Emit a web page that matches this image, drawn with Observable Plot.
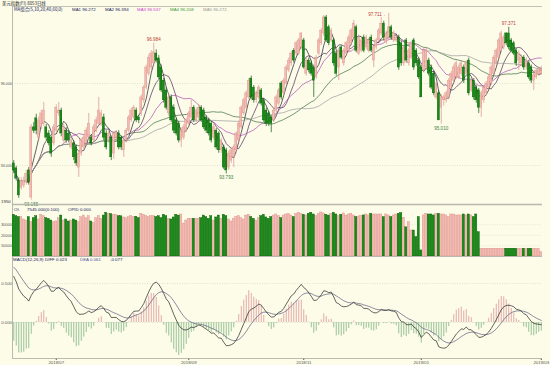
<!DOCTYPE html>
<html><head><meta charset="utf-8">
<script src="https://cdn.jsdelivr.net/npm/d3@7"></script>
<script src="https://cdn.jsdelivr.net/npm/@observablehq/plot@0.6"></script>
<style>
html,body{margin:0;padding:0;background:#fcfce9;}
#wrap{position:relative;width:550px;height:365px;overflow:hidden;background:#fcfce9;}
#wrap svg{position:absolute;left:0;overflow:visible;}
</style></head><body><div id="wrap"></div>
<script>
// ---------- data ----------
const opens = [
94.05,93.93,93.63,93.46,93.51,93.59,93.88,93.22,94.93,95.15,
94.68,94.93,95.02,94.93,94.78,94.68,94.54,94.85,95.27,95.34,
94.61,94.85,94.78,94.44,94.54,94.44,93.95,94.29,94.44,94.54,
94.68,94.68,94.61,94.85,95.02,95.02,95.17,94.78,94.61,94.68,
94.29,94.68,94.78,94.68,94.37,94.61,94.85,95.10,95.17,95.34,
95.17,95.27,95.59,95.90,96.24,96.39,96.49,96.73,96.61,96.39,
96.07,95.83,95.27,95.66,95.41,95.10,95.02,94.61,94.68,94.85,
95.02,95.17,95.41,95.10,95.17,95.41,95.34,95.17,95.10,95.02,
94.68,94.85,94.78,94.37,94.44,94.37,93.95,94.12,94.20,94.37,
94.61,94.93,95.27,95.41,95.66,96.12,95.90,95.59,95.66,95.83,
95.59,95.34,95.27,95.17,95.10,95.34,95.51,96.00,95.76,96.00,
96.32,96.49,96.80,96.73,96.73,96.88,97.05,96.24,96.56,96.49,
96.39,96.15,96.73,96.98,97.22,97.61,97.37,97.05,97.05,96.73,
96.39,96.88,96.49,96.73,96.80,96.98,97.12,97.37,96.73,96.80,
97.12,96.88,96.80,97.12,96.56,96.88,97.05,97.22,97.46,97.00,
97.12,97.37,97.05,97.05,97.12,96.98,96.49,97.05,96.49,96.63,
97.05,96.80,96.56,96.39,96.32,96.39,96.56,96.39,96.24,95.66,
95.76,95.41,95.59,95.59,95.66,95.90,96.07,96.15,96.15,96.24,
96.39,96.24,96.56,95.83,96.07,95.90,95.83,95.41,95.59,95.76,
95.90,96.00,96.24,96.49,96.63,96.80,96.88,97.22,97.22,97.05,
96.98,96.80,96.56,96.49,96.63,96.39,96.49,96.39,96.07,96.15,
96.22,96.26];
const highs = [
94.12,93.98,93.70,93.70,93.72,93.88,93.95,95.00,95.05,95.25,
95.18,95.35,95.54,95.00,94.85,94.72,95.00,95.48,95.54,95.40,
95.00,94.92,94.85,94.68,94.60,94.50,94.35,94.66,94.75,94.92,
95.27,94.75,95.00,95.18,95.66,95.35,95.25,94.85,94.85,94.72,
94.82,94.85,94.85,94.72,94.66,94.90,95.22,95.40,95.46,95.40,
95.22,95.72,95.95,96.45,96.70,96.80,96.984,96.82,96.68,96.45,
96.12,95.90,95.75,95.72,95.48,95.15,95.08,94.92,95.00,95.15,
95.32,95.59,95.46,95.40,95.48,95.46,95.40,95.22,95.15,95.08,
95.00,94.90,94.82,94.66,94.50,94.42,94.35,94.42,94.50,94.82,
95.08,95.46,95.64,95.82,96.12,96.18,95.95,95.82,95.95,95.88,
95.64,95.40,95.32,95.22,95.40,95.72,95.88,96.05,96.12,96.45,
96.62,96.78,96.85,97.03,97.10,97.24,97.10,96.62,96.62,96.55,
96.45,96.68,97.10,97.34,97.66,97.66,97.42,97.34,97.10,96.78,
96.85,96.92,96.85,97.03,97.18,97.34,97.54,97.42,97.18,97.10,
97.18,97.18,97.10,97.18,96.92,97.10,97.34,97.61,97.52,97.28,
97.711,97.42,97.28,97.18,97.18,97.03,96.92,97.10,96.85,97.03,
97.10,96.85,96.62,96.45,96.85,96.88,96.62,96.45,96.30,96.05,
95.82,95.72,95.72,95.82,96.12,96.30,96.45,96.55,96.45,96.55,
96.45,96.55,96.62,96.12,96.12,95.95,95.88,95.82,95.95,96.05,
96.20,96.45,96.68,96.85,97.10,97.28,97.18,97.24,97.371,97.10,
97.03,96.85,96.80,96.70,96.68,96.62,96.55,96.45,96.30,96.36,
96.40,96.42];
const lows = [
93.80,93.62,93.20,93.40,93.45,93.52,93.52,93.155,94.78,94.75,
94.60,94.88,94.95,94.60,94.48,94.20,94.48,94.80,95.20,94.70,
94.55,94.55,94.55,94.38,94.12,93.98,93.71,94.22,94.38,94.48,
94.62,94.48,94.55,94.80,94.95,94.95,94.60,94.38,94.55,94.12,
94.15,94.62,94.38,94.37,94.20,94.55,94.80,95.05,95.12,95.05,
95.02,95.20,95.52,95.85,96.18,96.32,96.42,96.50,96.10,95.78,
95.52,95.35,95.20,95.05,94.78,94.72,94.55,94.44,94.62,94.80,
94.98,95.12,95.05,95.05,95.12,95.05,94.88,94.78,94.72,94.55,
94.62,94.38,94.30,94.30,93.90,93.793,93.88,94.05,93.95,94.30,
94.55,94.88,95.22,95.35,95.60,95.60,95.52,95.52,95.60,95.45,
95.05,94.95,94.95,94.80,95.05,95.28,95.45,95.60,95.70,95.95,
96.26,96.42,96.50,96.68,96.68,96.82,96.35,96.18,96.26,96.18,
95.66,96.10,96.68,96.92,97.15,97.00,96.92,97.00,96.42,96.18,
96.07,96.58,96.42,96.68,96.75,96.92,97.05,96.75,96.68,96.75,
96.75,96.82,96.75,96.75,96.39,96.82,97.00,97.15,97.05,96.95,
97.05,97.05,97.00,97.00,96.32,96.42,96.42,96.50,96.42,96.58,
96.32,96.42,96.10,95.66,96.26,96.32,96.18,95.85,95.70,95.60,
95.10,95.01,95.45,95.52,95.60,95.85,96.00,96.10,96.10,96.18,
96.00,96.18,95.70,95.78,95.60,95.52,95.27,95.17,95.52,95.70,
95.85,95.95,96.18,96.42,96.58,96.75,96.82,96.92,96.82,96.75,
96.68,96.42,96.32,96.42,96.32,96.32,96.10,96.00,95.83,96.10,
96.18,96.20];
const closes = [
93.88,93.68,93.27,93.63,93.63,93.80,93.59,94.93,94.85,94.85,
95.10,95.27,95.34,94.68,94.54,94.29,94.93,95.41,95.34,94.78,
94.93,94.61,94.61,94.61,94.20,94.05,94.29,94.61,94.68,94.85,
95.02,94.54,94.93,95.10,95.34,95.27,94.68,94.44,94.78,94.20,
94.78,94.78,94.44,94.44,94.61,94.85,95.17,95.34,95.41,95.10,
95.10,95.66,95.90,96.39,96.63,96.73,96.76,96.56,96.15,95.83,
95.59,95.41,95.66,95.10,94.85,94.78,94.61,94.85,94.93,95.10,
95.27,95.41,95.10,95.34,95.41,95.10,94.93,94.85,94.78,94.61,
94.93,94.44,94.37,94.61,93.95,93.88,94.29,94.37,94.44,94.78,
95.02,95.41,95.59,95.76,96.07,95.66,95.59,95.76,95.90,95.51,
95.10,95.02,95.02,95.02,95.34,95.66,95.83,95.66,96.07,96.39,
96.56,96.73,96.56,96.98,97.05,97.22,96.39,96.56,96.32,96.24,
96.07,96.63,97.05,97.29,97.61,97.05,96.98,97.29,96.49,96.24,
96.80,96.63,96.80,96.98,97.12,97.29,97.46,96.80,97.12,97.05,
96.80,97.12,97.05,96.80,96.88,97.05,97.29,97.46,97.12,97.22,
97.37,97.12,97.22,97.12,96.39,96.49,96.88,96.56,96.80,96.98,
96.39,96.49,96.15,95.66,96.80,96.80,96.24,95.90,95.76,96.00,
95.10,95.66,95.66,95.76,96.07,96.24,96.39,96.49,96.39,96.49,
96.07,96.49,95.76,96.07,95.66,95.59,95.41,95.76,95.90,96.00,
96.15,96.39,96.63,96.80,97.05,97.22,97.12,96.98,96.88,96.80,
96.73,96.49,96.73,96.63,96.39,96.56,96.15,96.07,96.20,96.30,
96.35,96.30];
const volumes = [
39300,38000,37100,37100,34900,33900,37100,32300,36100,38000,
34900,39300,38000,36100,35500,33900,32300,33000,36100,38600,
33900,34900,33000,33900,34900,33900,32300,37100,38600,36100,
38000,33000,31700,36100,38000,35500,38600,41200,40300,40000,
39300,39300,38000,38000,36800,36100,37100,38000,37100,37400,
36100,40300,39300,38000,37100,38000,38000,37100,38000,36100,
39300,38000,35500,34900,36800,39300,38600,39600,31100,33900,
35500,35500,35500,35500,35500,36000,38600,37100,35500,38000,
33900,36800,38600,35500,39300,38000,34900,33000,35500,37100,
38000,36100,34900,38600,39300,37100,35500,33900,36100,38000,
39300,36800,35500,37100,38600,39600,38000,36100,38600,39600,
40200,38600,37100,40200,41200,40300,39300,38600,40300,41200,
39600,38000,40300,41500,40600,39300,38600,40300,41200,39600,
38000,39300,40600,38600,39600,40300,38700,37100,37700,38400,
38700,39600,38700,40200,39600,39600,39600,39600,37100,39600,
38700,37100,38700,39600,40200,40900,36500,27500,32300,24500,
24500,18200,37100,5700,38700,40200,39600,39600,38700,40200,
40200,39600,39600,38700,37100,39600,39600,38700,38700,38700,
39600,38700,39600,38700,37100,39600,22900,7300,7300,7300,
7300,7300,7300,7300,7300,7300,7300,7300,7300,7300,
7300,7300,7300,7300,7300,7300,7300,7300,7300,7300,
7300,4200];
const monthIdx = [17, 70, 116, 163, 211];
const monthLabels = ["2018/07", "2018/09", "2018/11", "2019/01", "2019/03"];
const maPeriods = [5, 10, 20, 40, 60];
const priceTicks = [94, 96];
const volTicks = [10000, 20000, 30000];
const macdTicks = [0, 0.5];
const extremeIdx = [7, 56, 85, 150, 171, 198];
const extremeKind = ["low", "high", "low", "high", "low", "high"];
const emaSeed = [94.02, 93.37];   // EMA12 / EMA26 entering the window (DIFF ≈ 0.65 at left edge)
const deaSeed = 0.74;

// ---------- styles ----------
const W = 550, ML = 12, MR = 8;
const UP_FILL = "#f3bab2", UP_STROKE = "#dd8f88", DN_FILL = "#148c14", DN_STROKE = "#045a04";
const MA_COLORS = ["#1c1c2c", "#4a2a5a", "#b046b0", "#3a6a3a", "#9a9a9a"];
const FONT = "Liberation Sans, Arial, sans-serif";
const N = closes.length;

const bars = closes.map((c, i) => ({i, o: opens[i], h: highs[i], l: lows[i], c, v: volumes[i], up: c >= opens[i]}));
const upBars = bars.filter(d => d.up), dnBars = bars.filter(d => !d.up);

let e12 = emaSeed[0], e26 = emaSeed[1], dea = deaSeed;
const macd = closes.map((c, i) => {
  e12 += (c - e12) * 2 / 13; e26 += (c - e26) * 2 / 27;
  const diff = e12 - e26; dea += (diff - dea) * 2 / 10;
  return {i, diff, dea, hist: 2 * (diff - dea)};
});

const ext = extremeIdx.map((i, j) => ({i, kind: extremeKind[j], p: extremeKind[j] === "high" ? highs[i] : lows[i]}));
const xOpt = {domain: [-0.5, N - 0.5], axis: null};
const styleOf = fs => ({background: "transparent", fontFamily: FONT, fontSize: fs, color: "#555", overflow: "visible"});
const wrap = document.getElementById("wrap");
function place(svg, top) { svg.style.top = top + "px"; wrap.appendChild(svg); }

// ---------- main price panel ----------
const PY = [93.049, 97.878];
const main = Plot.plot({
  width: W, height: 204, marginLeft: ML, marginRight: MR, marginTop: 6, marginBottom: 0,
  style: styleOf("3.7px"),
  x: xOpt,
  y: {domain: PY, ticks: priceTicks, tickFormat: d => d.toFixed(3), tickSize: 0, tickPadding: 0.5, label: null},
  marks: [
    Plot.ruleY(priceTicks, {stroke: "#cfcfc4", strokeDasharray: "1,1.5", strokeWidth: 0.6}),
    Plot.ruleY([PY[1]], {stroke: "#b0b0a8", strokeWidth: 0.8}),
    Plot.ruleX([-0.5], {stroke: "#a8a8a0", strokeWidth: 0.8}),
    ...maPeriods.map((k, j) => Plot.lineY(bars, Plot.windowY({k, anchor: "end", reduce: "mean"},
        {x: "i", y: "c", stroke: MA_COLORS[j], strokeWidth: 0.7}))),
    Plot.ruleX(upBars, {x: "i", y1: "l", y2: "h", stroke: UP_STROKE, strokeWidth: 0.7}),
    Plot.ruleX(dnBars, {x: "i", y1: "l", y2: "h", stroke: DN_STROKE, strokeWidth: 0.7}),
    Plot.rect(upBars, {x1: d => d.i - 0.4, x2: d => d.i + 0.4, y1: "o", y2: "c", fill: UP_FILL, stroke: UP_STROKE, strokeWidth: 0.4}),
    Plot.rect(dnBars, {x1: d => d.i - 0.4, x2: d => d.i + 0.4, y1: "o", y2: "c", fill: DN_FILL, stroke: DN_STROKE, strokeWidth: 0.4}),
    Plot.text(ext.filter(d => d.kind === "high" && d.p < 97.7), {x: "i", y: "p", text: d => d.p.toFixed(3), dy: -4, fill: "#c03a3a", fontSize: 4.6}),
    Plot.text(ext.filter(d => d.kind === "high" && d.p >= 97.7), {x: "i", y: "p", text: d => d.p.toFixed(3) + " ←", textAnchor: "end", dx: -1, dy: 1, fill: "#c03a3a", fontSize: 4.6}),
    Plot.text(ext.filter(d => d.kind === "low"), {x: "i", y: "p", text: d => d.p.toFixed(3), dy: 4, fill: "#3f7f3f", fontSize: 4.6})
  ]
});
place(main, 0);

// ---------- volume panel ----------
const VY = [0, 49000];
const vol = Plot.plot({
  width: W, height: 52, marginLeft: ML, marginRight: MR, marginTop: 0, marginBottom: 0,
  style: styleOf("4px"),
  x: xOpt,
  y: {domain: VY, ticks: volTicks, tickFormat: d => d.toFixed(0), tickSize: 0, tickPadding: 0.5, label: null},
  marks: [
    Plot.ruleY(volTicks, {stroke: "#d6d6cc", strokeDasharray: "1,1.5", strokeWidth: 0.6}),
    Plot.ruleY([VY[1]], {stroke: "#b8b8b0", strokeWidth: 1.6}),
    Plot.ruleX([-0.5], {stroke: "#a8a8a0", strokeWidth: 0.8}),
    Plot.rect(upBars, {x1: d => d.i - 0.42, x2: d => d.i + 0.42, y1: 0, y2: "v", fill: UP_FILL, stroke: UP_STROKE, strokeWidth: 0.4}),
    Plot.rect(dnBars, {x1: d => d.i - 0.42, x2: d => d.i + 0.42, y1: 0, y2: "v", fill: DN_FILL, stroke: DN_STROKE, strokeWidth: 0.4})
  ]
});
place(vol, 204);

// ---------- MACD panel ----------
const MY = [-0.4615, 0.846];
const mac = Plot.plot({
  width: W, height: 109, marginLeft: ML, marginRight: MR, marginTop: 0, marginBottom: 7,
  style: styleOf("4.3px"),
  x: {domain: [-0.5, N - 0.5], ticks: monthIdx, tickFormat: d => monthLabels[monthIdx.indexOf(d)], tickSize: 2, tickPadding: 0.5, label: null},
  y: {domain: MY, ticks: macdTicks, tickFormat: d => d.toFixed(3), tickSize: 0, tickPadding: 0.5, label: null},
  marks: [
    Plot.ruleY(macdTicks, {stroke: "#d0d0c6", strokeDasharray: "1,1.5", strokeWidth: 0.6}),
    Plot.ruleY([MY[1]], {stroke: "#b8b8b0", strokeWidth: 1.2}),
    Plot.ruleY([MY[0]], {stroke: "#a8a8a0", strokeWidth: 0.8}),
    Plot.ruleX([-0.5], {stroke: "#a8a8a0", strokeWidth: 0.8}),
    Plot.ruleX(macd.filter(d => d.hist >= 0), {x: "i", y1: 0, y2: "hist", stroke: "#e0a0a0", strokeWidth: 0.9}),
    Plot.ruleX(macd.filter(d => d.hist < 0), {x: "i", y1: 0, y2: "hist", stroke: "#8cbc8c", strokeWidth: 0.9}),
    Plot.line(macd, {x: "i", y: "dea", stroke: "#5c5c7c", strokeWidth: 0.7}),
    Plot.line(macd, {x: "i", y: "diff", stroke: "#222", strokeWidth: 0.7})
  ]
});
place(mac, 256);

// ---------- header texts ----------
const ov = d3.create("svg").attr("width", W).attr("height", 365).style("top", "0px")
  .style("font-family", FONT).style("font-size", "4.4px");
function txt(x, y, s, fill, fam) {
  const t = ov.append("text").attr("x", x).attr("y", y).attr("fill", fill).text(s);
  if (fam) t.style("font-family", fam);
}
const CJK = "'Noto Sans CJK SC', sans-serif";
txt(2, 4.6, "美元指数(FI) 8053日线", "#222", CJK);
txt(14, 11, "MA组合(5,10,20,40,60,0)", "#20205a", CJK);
txt(72, 11, "MA1 96.272", "#20205a");
txt(105, 11, "MA2 96.394", "#20205a");
txt(137, 11, "MA3 96.537", "#d040d0");
txt(170, 11, "MA4 96.208", "#3a9a3a");
txt(203, 11, "MA5 96.272", "#9a9a9a");
txt(1, 203, "1950", "#333");
txt(14, 210.5, "OI.", "#20205a");
txt(27, 210.5, "7545.000(0:100)", "#20205a");
txt(68, 210.5, "OPID 0.000", "#20205a");
txt(13, 261, "MACD(12,26,9)", "#20205a");
txt(45, 261, "DIFF 0.023", "#20205a");
txt(80, 261, "DEA 0.061", "#5050a0");
txt(110, 261, "-0.077", "#20205a");
wrap.appendChild(ov.node());
</script></body></html>
